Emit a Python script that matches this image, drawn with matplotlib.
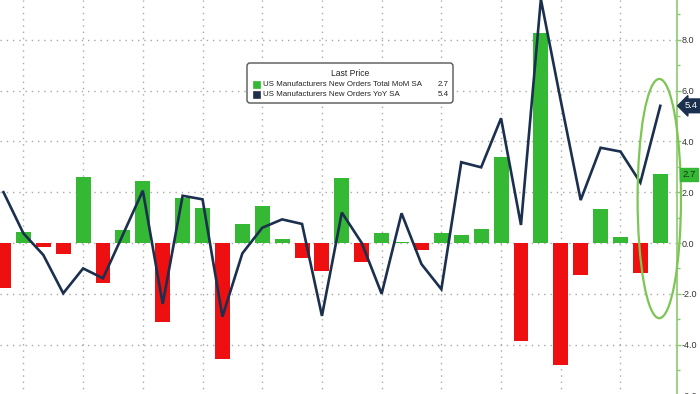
import numpy as np
import matplotlib
matplotlib.use("Agg")
import matplotlib.pyplot as plt
from matplotlib.patches import Ellipse, FancyBboxPatch, Rectangle
from matplotlib.transforms import IdentityTransform, blended_transform_factory
from matplotlib.ticker import MultipleLocator, FormatStrFormatter

# ---- data ----
mom_series_name = "US Manufacturers New Orders Total MoM SA"
yoy_series_name = "US Manufacturers New Orders YoY SA"
mom_values = [-1.76, 0.43, -0.16, -0.42, 2.59, -1.57, 0.5, 2.43, -3.12, 1.76,
              1.39, -4.55, 0.76, 1.44, 0.17, -0.6, -1.1, 2.55, -0.74, 0.39,
              0.02, -0.29, 0.39, 0.31, 0.55, 3.39, -3.85, 8.26, -4.8, -1.27,
              1.33, 0.24, -1.19, 2.7]
yoy_values = [2.0, 0.38, -0.47, -1.98, -1.0, -1.39, 0.33, 2.06, -2.4, 1.86,
              1.72, -2.9, -0.41, 0.6, 0.93, 0.75, -2.87, 1.2, 0.0, -2.0,
              1.17, -0.83, -1.82, 3.18, 2.98, 4.91, 0.71, 9.6, 5.6, 1.69,
              3.75, 3.6, 2.38, 5.4]
last_mom = "2.7"
last_yoy = "5.4"
legend_title = "Last Price"
y_ticks = [-6.0, -4.0, -2.0, 0.0, 2.0, 4.0, 6.0, 8.0]

GREEN = "#35b935"
RED = "#ee1010"
NAVY = "#1b2f4e"
SPINE_GREEN = "#8cc870"
GRID = "#a8a8a8"

W, H = 700, 394
fig = plt.figure(figsize=(W / 100, H / 100), dpi=100)
ax = fig.add_axes([0, -20 / H, 677 / W, (H + 20) / H])
ax.set_facecolor("white")

x = np.arange(len(mom_values))
colors = [GREEN if v >= 0 else RED for v in mom_values]
ax.bar(x, mom_values, width=0.75, color=colors, zorder=2)
ax.plot(x, yoy_values, color=NAVY, lw=1.9, zorder=3, solid_joinstyle="miter")

px_per_unit = 25.4
top_val = 243 / px_per_unit
ax.set_ylim(top_val - (H + 20) / px_per_unit, top_val)
ax.set_xlim(-0.176, 33.84)

ax.set_xticks(np.arange(1, len(x), 3))
ax.set_yticks(y_ticks)
ax.yaxis.set_minor_locator(MultipleLocator(1.0))
ax.yaxis.set_major_formatter(FormatStrFormatter("%.1f"))
ax.grid(True, which="major", color=GRID, linestyle=(0, (1, 3.5)), lw=1.0, zorder=1)
ax.tick_params(axis="x", length=0, labelbottom=False)
ax.yaxis.tick_right()
ax.tick_params(axis="y", which="major", direction="out", length=3, width=1,
               color=SPINE_GREEN, labelsize=6.5, labelcolor="#333333", pad=0.5)
ax.tick_params(axis="y", which="minor", direction="out", length=2, width=1,
               color=SPINE_GREEN)
for lab in ax.get_yticklabels():
    lab.set_fontfamily(["Liberation Sans", "DejaVu Sans"])
for s in ["top", "left", "bottom"]:
    ax.spines[s].set_visible(False)
ax.spines["right"].set_color(SPINE_GREEN)
ax.spines["right"].set_linewidth(1.2)

ell = Ellipse((len(x) - 1 - 0.05, 1.75), width=2.18, height=9.42, fill=False,
              edgecolor="#7cc653", lw=1.6, zorder=4, clip_on=False)
ax.add_patch(ell)

tr = blended_transform_factory(ax.transAxes, ax.transData)
ax.text(1.012, float(last_yoy), last_yoy, transform=tr, ha="left", va="center",
        fontsize=6.8, color="white", family=["Liberation Sans", "DejaVu Sans"],
        bbox=dict(boxstyle="larrow,pad=0.25", fc=NAVY, ec=NAVY), zorder=6,
        clip_on=False)
ax.text(1.008, float(last_mom), last_mom, transform=tr, ha="left", va="center",
        fontsize=6.8, color="#17321a", family=["Liberation Sans", "DejaVu Sans"],
        bbox=dict(boxstyle="square,pad=0.25", fc=GREEN, ec=GREEN), zorder=6,
        clip_on=False)

# legend box (pixel coordinates)
idt = IdentityTransform()
def py(y_img):
    return H - y_img

box = FancyBboxPatch((247, py(103)), 206, 40, boxstyle="round,pad=0,rounding_size=3",
                     transform=idt, fc="white", ec="#555555", lw=1.0, zorder=10)
fig.patches.append(box)
lfont = ["Liberation Sans", "DejaVu Sans"]

# size legend font so the longest label spans ~160 px like the reference
renderer = fig.canvas.get_renderer()
probe = fig.text(0, 0, mom_series_name, fontsize=10, family=lfont)
wpx = probe.get_window_extent(renderer).width
probe.remove()
lfs = 10 * 160.0 / wpx

fig.text(350, py(73.5), legend_title, transform=idt, ha="center", va="center",
         fontsize=lfs * 1.08, color="#222222", family=lfont, zorder=11)
for i, (name, val, col) in enumerate([(mom_series_name, last_mom, GREEN),
                                      (yoy_series_name, last_yoy, NAVY)]):
    yc = 84.3 + i * 9.8
    sq = Rectangle((253, py(yc + 3.5)), 7, 7, transform=idt, fc=col,
                   ec="#333333" if col == NAVY else col, lw=0.5, zorder=11)
    fig.patches.append(sq)
    fig.text(263, py(yc), name, transform=idt, ha="left", va="center",
             fontsize=lfs, color="#222222", family=lfont, zorder=11)
    fig.text(449, py(yc), val, transform=idt, ha="right", va="center",
             fontsize=lfs, color="#222222", family=lfont, zorder=11)

fig.savefig("out.png", dpi=100)
